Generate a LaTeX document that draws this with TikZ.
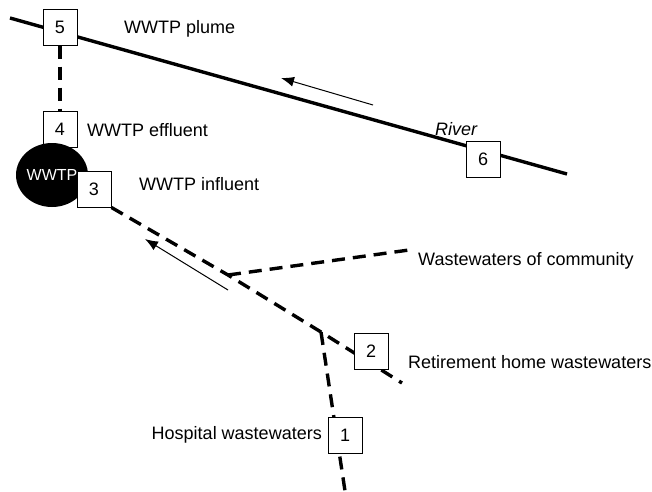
\documentclass[tikz,border=0pt]{standalone}
\usepackage{fontspec}
\setmainfont{Liberation Sans}
\usetikzlibrary{arrows.meta, backgrounds, positioning, shapes.geometric}

\begin{document}
\begin{tikzpicture}[
      x=1pt, y=-1pt,
      every node/.style={font=\fontsize{18}{21}\selectfont},
      sample/.style={rectangle, draw, fill=white, line width=1pt, inner sep=0pt, minimum width=34pt, minimum height=36pt},
      txt/.style={anchor=west, inner sep=0pt},
      river/.style={line width=3.4pt},
      sewer/.style={line width=3.4pt, dash pattern=on 13pt off 8pt},
      flow/.style={-{Latex[length=13pt, width=10pt]}, line width=1pt}
    ]
    \useasboundingbox (0,0) rectangle (652,491);
    % sampling points
    \node[sample] (n5) at (60,27) {5};
    \node[sample] (n4) at (60,129) {4};
    \node[ellipse, fill=black, text=white, minimum width=72pt, minimum height=64pt, inner sep=0pt, font=\fontsize{16}{18}\selectfont] (wwtp) at (52,175) {WWTP};
    \node[sample] (n3) at (94,189) {3};
    \node[sample] (n6) at (483,159) {6};
    \node[sample] (n2) at (371,351) {2};
    \node[sample] (n1) at (345,435) {1};
    % labels
    \node[txt] (l5) at (124,29) {WWTP plume};
    \node[txt] (l4) at (87,130) {WWTP effluent};
    \node[txt] (l3) at (139,184) {WWTP influent};
    \node[txt, font=\fontsize{18}{21}\selectfont\itshape] (lriver) at (435,129) {River};
    \node[txt] (lcom) at (418,261) {Wastewaters of community};
    \node[txt] (l2) at (408,362) {Retirement home wastewaters};
    \node[txt, anchor=east] (l1) at (322,435) {Hospital wastewaters};
    % network points
    \coordinate (rs) at (10,18);
    \coordinate (re) at (567,174);
    \coordinate (jcom) at (228,275);
    \coordinate (jhos) at (321,332);
    \coordinate (send) at (402,383);
    \coordinate (cend) at (409,250);
    \coordinate (hend) at (345,491);
    \begin{scope}[on background layer]
      \draw[river] (rs) -- (re);
      \draw[sewer] (n5) -- (n4);
      \draw[sewer] (n3.south east) -- (jcom) -- (jhos) -- (send);
      \draw[sewer] (jcom) -- (cend);
      \draw[sewer] (jhos) -- (hend);
    \end{scope}
    % flow direction
    \coordinate (ra) at (373,105);
    \coordinate (rb) at (281,78);
    \coordinate (sa) at (228,290);
    \coordinate (sb) at (145,239);
    \draw[flow] (ra) -- (rb);
    \draw[flow] (sa) -- (sb);
  \end{tikzpicture}
\end{document}
